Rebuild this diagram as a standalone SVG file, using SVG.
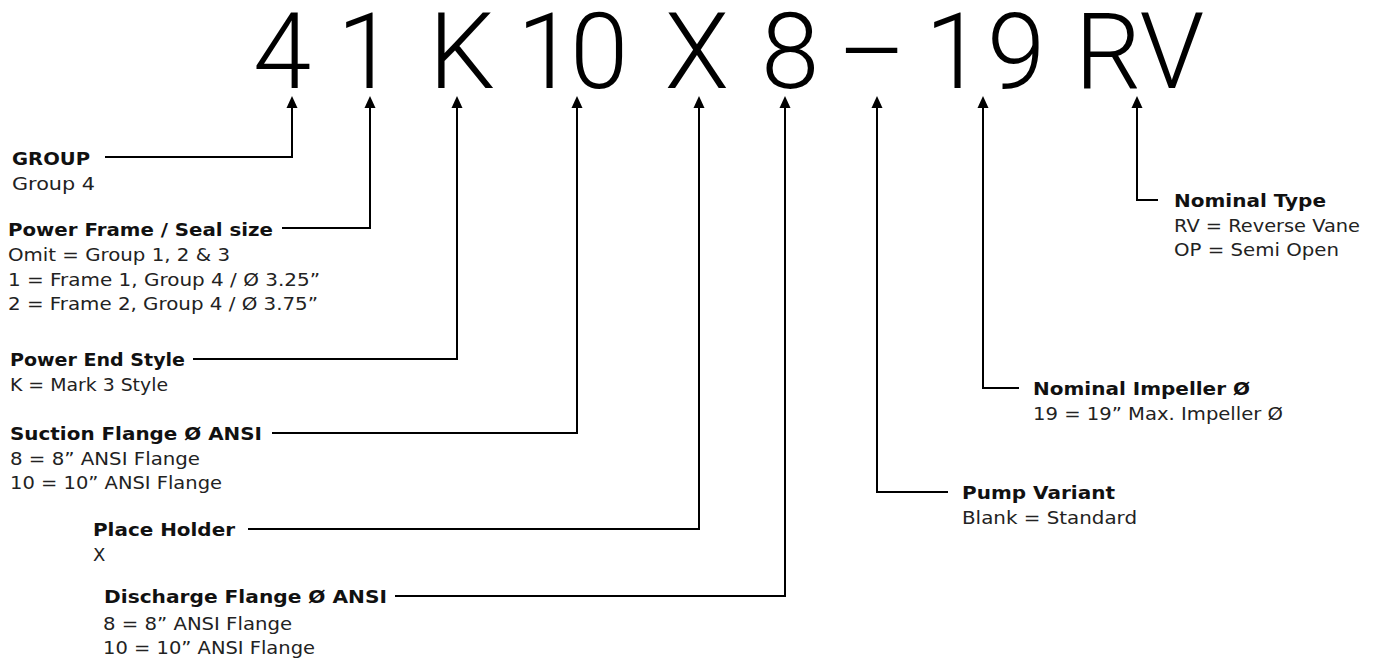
<svg xmlns="http://www.w3.org/2000/svg" width="1377" height="662" viewBox="0 0 1377 662">
<defs>
<style>
.big{font-family:Roboto,"Open Sans","DejaVu Sans",sans-serif;font-weight:300;font-size:105px;fill:#000;text-anchor:middle}
.h{font-family:"DejaVu Sans","Liberation Sans",sans-serif;font-weight:bold;font-size:18px;fill:#111}
.t{font-family:"DejaVu Sans","Liberation Sans",sans-serif;font-size:18px;fill:#222}
.c{fill:none;stroke:#000;stroke-width:2;marker-end:url(#ah)}
</style>
<marker id="ah" markerUnits="userSpaceOnUse" markerWidth="12" markerHeight="12" viewBox="0 0 12 12" refX="8" refY="6" orient="auto">
<path d="M0,0.5 L12,6 L0,11.5 z" fill="#000"/>
</marker>
</defs>
<rect width="1377" height="662" fill="#fff"/>
<g id="code">
<text class="big" x="282 366 462 546 599 697 790 872 954 1016 1108 1172" y="88">41K10X8–19RV</text>
</g>
<g id="connectors">
<path class="c" d="M105,157 H292 V100"/>
<path class="c" d="M282,228 H370 V100"/>
<path class="c" d="M193,359 H457 V100"/>
<path class="c" d="M272,433 H577 V100"/>
<path class="c" d="M248,529 H699 V100"/>
<path class="c" d="M395,596 H785 V100"/>
<path class="c" d="M948,492 H877 V100"/>
<path class="c" d="M1019,388 H983 V100"/>
<path class="c" d="M1158,200 H1137 V100"/>
</g>
<g id="group">
<text class="h" x="12" y="165" textLength="78" lengthAdjust="spacingAndGlyphs">GROUP</text>
<text class="t" x="12" y="190" textLength="83" lengthAdjust="spacingAndGlyphs">Group 4</text>
</g>
<g id="power-frame">
<text class="h" x="8" y="236" textLength="265" lengthAdjust="spacingAndGlyphs">Power Frame / Seal size</text>
<text class="t" x="8" y="261" textLength="222" lengthAdjust="spacingAndGlyphs">Omit = Group 1, 2 &amp; 3</text>
<text class="t" x="8" y="286" textLength="312" lengthAdjust="spacingAndGlyphs">1 = Frame 1, Group 4 / Ø 3.25”</text>
<text class="t" x="8" y="310" textLength="310" lengthAdjust="spacingAndGlyphs">2 = Frame 2, Group 4 / Ø 3.75”</text>
</g>
<g id="power-end">
<text class="h" x="10" y="366" textLength="175" lengthAdjust="spacingAndGlyphs">Power End Style</text>
<text class="t" x="10" y="391" textLength="158" lengthAdjust="spacingAndGlyphs">K = Mark 3 Style</text>
</g>
<g id="suction">
<text class="h" x="10" y="440" textLength="252" lengthAdjust="spacingAndGlyphs">Suction Flange Ø ANSI</text>
<text class="t" x="10" y="465" textLength="190" lengthAdjust="spacingAndGlyphs">8 = 8” ANSI Flange</text>
<text class="t" x="10" y="489" textLength="212" lengthAdjust="spacingAndGlyphs">10 = 10” ANSI Flange</text>
</g>
<g id="place-holder">
<text class="h" x="93" y="536" textLength="142" lengthAdjust="spacingAndGlyphs">Place Holder</text>
<text class="t" x="93" y="561">X</text>
</g>
<g id="discharge">
<text class="h" x="104" y="603" textLength="283" lengthAdjust="spacingAndGlyphs">Discharge Flange Ø ANSI</text>
<text class="t" x="103" y="630" textLength="189" lengthAdjust="spacingAndGlyphs">8 = 8” ANSI Flange</text>
<text class="t" x="103" y="654" textLength="212" lengthAdjust="spacingAndGlyphs">10 = 10” ANSI Flange</text>
</g>
<g id="pump-variant">
<text class="h" x="962" y="499" textLength="153" lengthAdjust="spacingAndGlyphs">Pump Variant</text>
<text class="t" x="962" y="524" textLength="175" lengthAdjust="spacingAndGlyphs">Blank = Standard</text>
</g>
<g id="impeller">
<text class="h" x="1033" y="395" textLength="217" lengthAdjust="spacingAndGlyphs">Nominal Impeller Ø</text>
<text class="t" x="1033" y="420" textLength="250" lengthAdjust="spacingAndGlyphs">19 = 19” Max. Impeller Ø</text>
</g>
<g id="nominal-type">
<text class="h" x="1174" y="207" textLength="152" lengthAdjust="spacingAndGlyphs">Nominal Type</text>
<text class="t" x="1174" y="232" textLength="186" lengthAdjust="spacingAndGlyphs">RV = Reverse Vane</text>
<text class="t" x="1174" y="256" textLength="165" lengthAdjust="spacingAndGlyphs">OP = Semi Open</text>
</g>
</svg>
